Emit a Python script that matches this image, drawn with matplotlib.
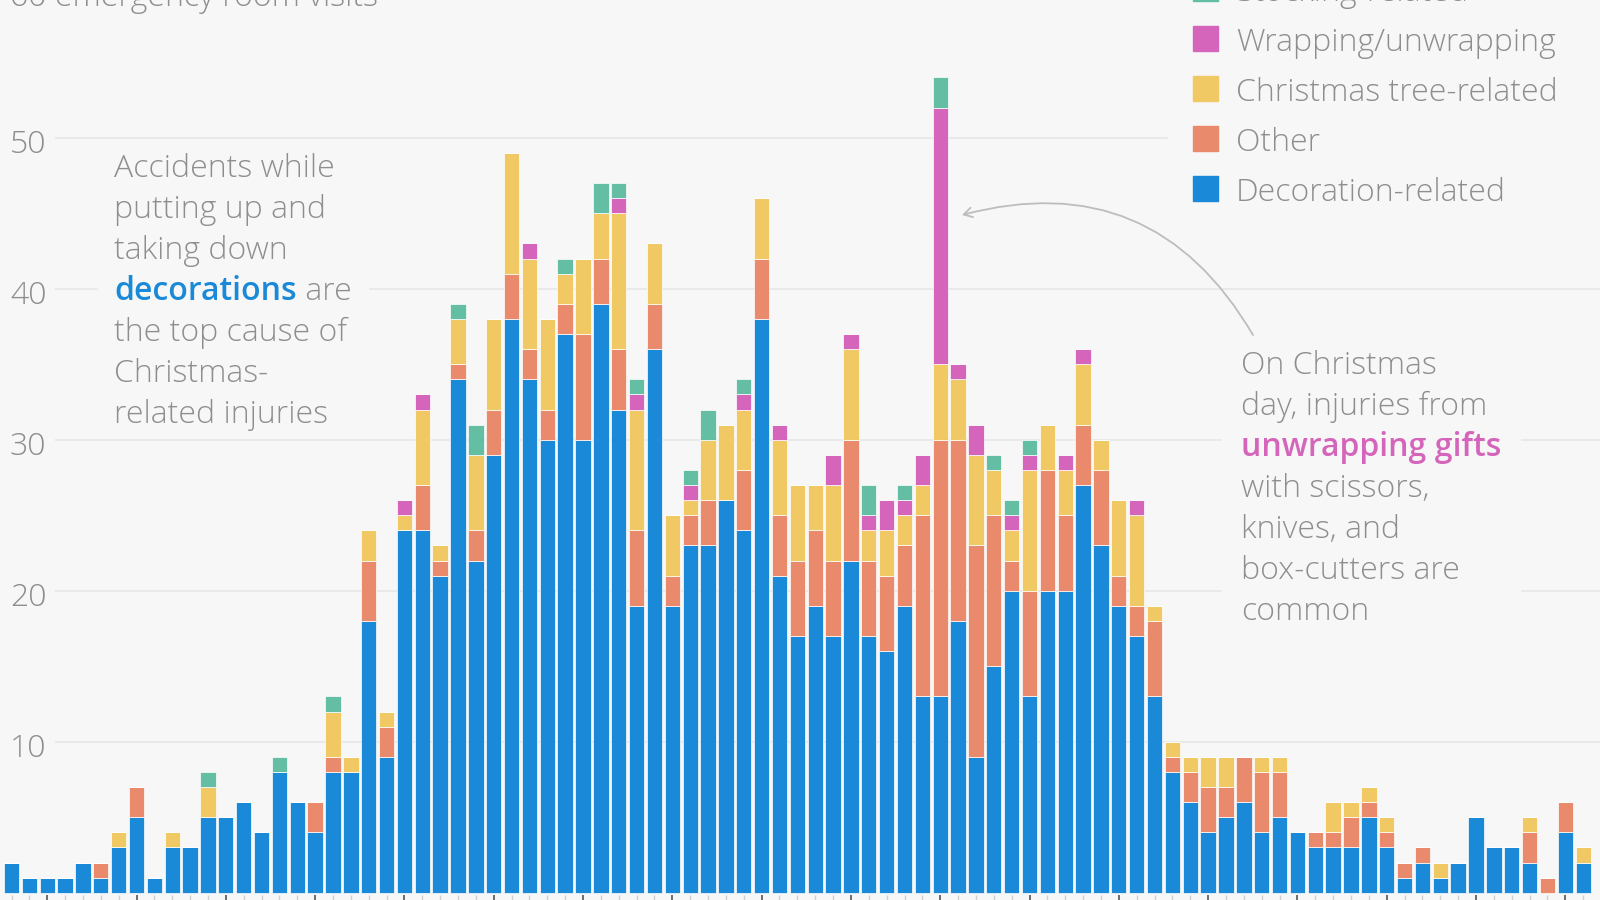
import numpy as np
import matplotlib.pyplot as plt

# daily counts, one value per bar (89 days), 10 per row
decoration = [2, 1, 1, 1, 2, 1, 3, 5, 1, 3,
              3, 5, 5, 6, 4, 8, 6, 4, 8, 8,
              18, 9, 24, 24, 21, 34, 22, 29, 38, 34,
              30, 37, 30, 39, 32, 19, 36, 19, 23, 23,
              26, 24, 38, 21, 17, 19, 17, 22, 17, 16,
              19, 13, 13, 18, 9, 15, 20, 13, 20, 20,
              27, 23, 19, 17, 13, 8, 6, 4, 5, 6,
              4, 5, 4, 3, 3, 3, 5, 3, 1, 2,
              1, 2, 5, 3, 3, 2, 0, 4, 2]
other = [0, 0, 0, 0, 0, 1, 0, 2, 0, 0,
         0, 0, 0, 0, 0, 0, 0, 2, 1, 0,
         4, 2, 0, 3, 1, 1, 2, 3, 3, 2,
         2, 2, 7, 3, 4, 5, 3, 2, 2, 3,
         0, 4, 4, 4, 5, 5, 5, 8, 5, 5,
         4, 12, 17, 12, 14, 10, 2, 7, 8, 5,
         4, 5, 2, 2, 5, 1, 2, 3, 2, 3,
         4, 3, 0, 1, 1, 2, 1, 1, 1, 1,
         0, 0, 0, 0, 0, 2, 1, 2, 0]
tree = [0, 0, 0, 0, 0, 0, 1, 0, 0, 1,
        0, 2, 0, 0, 0, 0, 0, 0, 3, 1,
        2, 1, 1, 5, 1, 3, 5, 6, 8, 6,
        6, 2, 5, 3, 9, 8, 4, 4, 1, 4,
        5, 4, 4, 5, 5, 3, 5, 6, 2, 3,
        2, 2, 5, 4, 6, 3, 2, 8, 3, 3,
        4, 2, 5, 6, 1, 1, 1, 2, 2, 0,
        1, 1, 0, 0, 2, 1, 1, 1, 0, 0,
        1, 0, 0, 0, 0, 1, 0, 0, 1]
wrapping = [0, 0, 0, 0, 0, 0, 0, 0, 0, 0,
            0, 0, 0, 0, 0, 0, 0, 0, 0, 0,
            0, 0, 1, 1, 0, 0, 0, 0, 0, 1,
            0, 0, 0, 0, 1, 1, 0, 0, 1, 0,
            0, 1, 0, 1, 0, 0, 2, 1, 1, 2,
            1, 2, 17, 1, 2, 0, 1, 1, 0, 1,
            1, 0, 0, 1, 0, 0, 0, 0, 0, 0,
            0, 0, 0, 0, 0, 0, 0, 0, 0, 0,
            0, 0, 0, 0, 0, 0, 0, 0, 0]
stocking = [0, 0, 0, 0, 0, 0, 0, 0, 0, 0,
            0, 1, 0, 0, 0, 1, 0, 0, 1, 0,
            0, 0, 0, 0, 0, 1, 2, 0, 0, 0,
            0, 1, 0, 2, 1, 1, 0, 0, 1, 2,
            0, 1, 0, 0, 0, 0, 0, 0, 2, 0,
            1, 0, 2, 0, 0, 1, 1, 1, 0, 0,
            0, 0, 0, 0, 0, 0, 0, 0, 0, 0,
            0, 0, 0, 0, 0, 0, 0, 0, 0, 0,
            0, 0, 0, 0, 0, 0, 0, 0, 0]

series = [("Decoration-related", decoration, "#1a8ad8"),
          ("Other", other, "#e98a6d"),
          ("Christmas tree-related", tree, "#f1c964"),
          ("Wrapping/unwrapping", wrapping, "#d465bb"),
          ("Stocking-related", stocking, "#64bea4")]

y_ticks = [10, 20, 30, 40, 50, 60]

bg = "#f7f7f7"
grey = "#8e8e8e"
fs = 23
wt = 300
plt.rcParams['font.family'] = ['Open Sans', 'DejaVu Sans']

W, H = 1600, 900
fig = plt.figure(figsize=(16, 9), dpi=100, facecolor=bg)
ax = fig.add_axes([0, 0, 1, 1])
ax.set_facecolor(bg)
ax.axis('off')

pitch = 17.86
x0 = -11.5 / pitch
ax.set_xlim(x0, x0 + W / pitch)
ppu = 15.1
ax.set_ylim(-(H - 892.7) / ppu, 892.7 / ppu)


def fx(px):
    return px / W


def fy(py):
    return 1 - py / H


n = len(decoration)
x = np.arange(n)

# gridlines
gx0 = x0 + 55 / pitch
ax.hlines(y_ticks[:-1], gx0, x0 + W / pitch, color="#e7e7e7", lw=1.2, zorder=0)

bottom = np.zeros(n)
for name, vals, col in series:
    vals = np.array(vals)
    ax.bar(x, vals, bottom=bottom, width=0.86, color=col, edgecolor="white",
           linewidth=0.5, zorder=2)
    bottom += vals

# x ticks
minor = x[x % 5 != 2]
major = x[x % 5 == 2]
ax.vlines(minor, -0.15, -1, color="#cfcfcf", lw=1, zorder=1)
ax.vlines(major, -0.15, -1, color="#555555", lw=1.2, zorder=1)

# y tick labels (the top one carries the unit and sits a little lower)
for v in y_ticks:
    if v < 60:
        lab, off = str(v), 15
    else:
        lab, off = "60 emergency room visits", 19
    ax.text(x0 + 10 / pitch, v - off / ppu, lab, ha="left", va="baseline",
            fontsize=fs, color=grey, fontweight=wt)

# legend
for i, (name, vals, col) in enumerate(series):
    yb = 201 - 50 * i
    fig.patches.append(plt.Rectangle((fx(1193), fy(yb)), 25 / W, 25 / H,
                                     transform=fig.transFigure, color=col, zorder=3))
    fig.text(fx(1236), fy(yb), name, ha="left", va="baseline", fontsize=fs,
             color=grey, fontweight=wt, zorder=3)
fig.patches.append(plt.Rectangle((fx(1168), fy(212)), 432 / W, 212 / H,
                                 transform=fig.transFigure, color=bg, zorder=1.5))

# left note
fig.canvas.draw()
rend = fig.canvas.get_renderer()
left_lines = ["Accidents while", "putting up and", "taking down", None,
              "the top cause of", "Christmas-", "related injuries"]
for i, line in enumerate(left_lines):
    yb = 177 + 41 * i
    if line is None:
        t = fig.text(fx(114), fy(yb), "decorations", ha="left", va="baseline",
                     fontsize=fs, color="#1a8ad8", fontweight=600, zorder=3)
        ext = t.get_window_extent(rend)
        fig.text(ext.x1 / W, fy(yb), " are", ha="left", va="baseline",
                 fontsize=fs, color=grey, fontweight=wt, zorder=3)
    else:
        fig.text(fx(114), fy(yb), line, ha="left", va="baseline", fontsize=fs,
                 color=grey, fontweight=wt, zorder=3)
fig.patches.append(plt.Rectangle((fx(98), fy(437)), 270 / W, 290 / H,
                                 transform=fig.transFigure, color=bg, zorder=1.5))

# right note
right_lines = ["On Christmas", "day, injuries from", "unwrapping gifts",
               "with scissors,", "knives, and", "box-cutters are", "common"]
for i, line in enumerate(right_lines):
    yb = 374 + 41 * i
    bold = line == "unwrapping gifts"
    fig.text(fx(1241), fy(yb), line, ha="left", va="baseline", fontsize=fs,
             color="#d465bb" if bold else grey,
             fontweight=600 if bold else wt, zorder=3)
fig.patches.append(plt.Rectangle((fx(1222), fy(635)), 298 / W, 290 / H,
                                 transform=fig.transFigure, color=bg, zorder=1.5))

# arrow pointing at Christmas day
start = (x0 + 1253 / pitch, (892.7 - 335) / ppu)
end = (x0 + 962 / pitch, (892.7 - 215) / ppu)
ax.annotate("", xy=end, xytext=start,
            arrowprops=dict(arrowstyle="->,head_length=0.6,head_width=0.35",
                            color="#bdbdbd", lw=1.3, shrinkA=0, shrinkB=0,
                            connectionstyle="arc3,rad=0.38"), zorder=3)

fig.savefig("out.png", dpi=100, facecolor=bg)
